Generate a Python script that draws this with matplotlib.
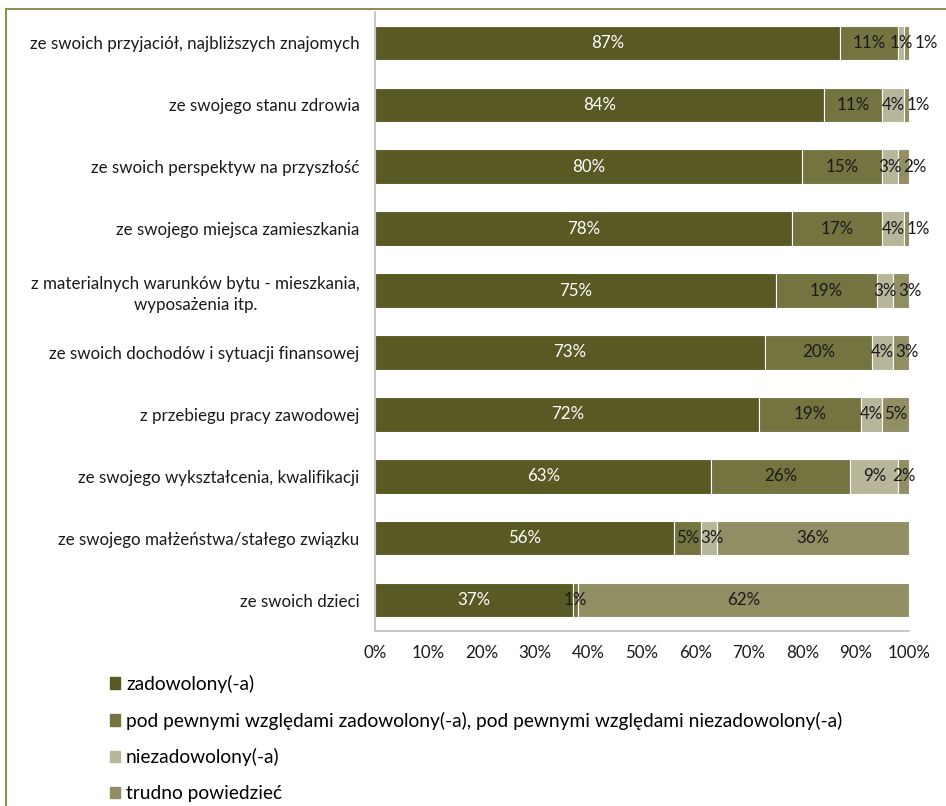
import matplotlib
matplotlib.use("Agg")
import matplotlib.pyplot as plt
from matplotlib.lines import Line2D
import numpy as np

plt.rcParams['font.family'] = ['Lato', 'DejaVu Sans']

categories = [
    "ze swoich przyjaciół, najbliższych znajomych",
    "ze swojego stanu zdrowia",
    "ze swoich perspektyw na przyszłość",
    "ze swojego miejsca zamieszkania",
    "z materialnych warunków bytu - mieszkania,\nwyposażenia itp.",
    "ze swoich dochodów i sytuacji finansowej",
    "z przebiegu pracy zawodowej",
    "ze swojego wykształcenia, kwalifikacji",
    "ze swojego małżeństwa/stałego związku",
    "ze swoich dzieci",
]
zadowolony = [87, 84, 80, 78, 75, 73, 72, 63, 56, 37]
pod_pewnymi = [11, 11, 15, 17, 19, 20, 19, 26, 5, 1]
niezadowolony = [1, 4, 3, 4, 3, 4, 4, 9, 3, 0]
trudno = [1, 1, 2, 1, 3, 3, 5, 2, 36, 62]
series_names = [
    "zadowolony(-a)",
    "pod pewnymi względami zadowolony(-a), pod pewnymi względami niezadowolony(-a)",
    "niezadowolony(-a)",
    "trudno powiedzieć",
]
colors = ["#595A23", "#737440", "#B8B69A", "#908E62"]
text_colors = ["white", "#1a1a1a", "#1a1a1a", "#1a1a1a"]
xticks = [0, 10, 20, 30, 40, 50, 60, 70, 80, 90, 100]

W, H = 946, 806
fig = plt.figure(figsize=(W / 100, H / 100), dpi=100)
ax = fig.add_axes([375 / W, 1 - 631 / H, (909 - 375) / W, (631 - 12) / H])

series = [zadowolony, pod_pewnymi, niezadowolony, trudno]
y = np.arange(len(categories))
left = np.zeros(len(categories))
for vals, c, name in zip(series, colors, series_names):
    ax.barh(y, vals, left=left, height=0.56, color=c, edgecolor="white",
            linewidth=0.8, label=name)
    left = left + np.array(vals)

FS = 12.2
ax.set_xlim(0, 100)
ax.set_ylim(len(categories) - 0.5, -0.5)
ax.set_yticks(y)
ax.set_yticklabels(categories, fontsize=FS, ha="right", multialignment="center",
                   linespacing=1.35)
ax.set_xticks(xticks)
ax.set_xticklabels([f"{t}%" for t in xticks], fontsize=FS)
ax.tick_params(axis="both", length=0, colors="#1a1a1a")
ax.tick_params(axis="y", pad=11)
ax.tick_params(axis="x", pad=10)
for s in ["top", "right"]:
    ax.spines[s].set_visible(False)
for s in ["left", "bottom"]:
    ax.spines[s].set_color("#BFBFBF")
    ax.spines[s].set_linewidth(1.2)

# data labels, centered, nudged right if they would overlap the previous one
fig.canvas.draw()
renderer = fig.canvas.get_renderer()
inv = ax.transData.inverted()
for i in range(len(categories)):
    start = 0.0
    prev_right = -1e9
    for k, vals in enumerate(series):
        v = vals[i]
        if v <= 0:
            continue
        cx = start + v / 2
        t = ax.text(cx, i, f"{v}%", ha="center", va="center", fontsize=FS,
                    color=text_colors[k])
        bb = t.get_window_extent(renderer)
        x0 = inv.transform((bb.x0, 0))[0]
        x1 = inv.transform((bb.x1, 0))[0]
        if x0 < prev_right:
            shift = prev_right - x0 + 0.3
            t.set_x(cx + shift)
            x1 += shift
        prev_right = x1
        start += v

handles = [plt.Rectangle((0, 0), 1, 1, color=c) for c in colors]
fig.legend(handles, series_names, loc="upper left",
           bbox_to_anchor=(102 / W, 1 - 667 / H), frameon=False,
           fontsize=13.8, labelspacing=0.98, handlelength=0.55, handleheight=0.55,
           handletextpad=0.3, borderaxespad=0)

# partial frame (top and left)
fig.add_artist(Line2D([6 / W, 1.0], [1 - 9 / H, 1 - 9 / H], transform=fig.transFigure,
                      color="#8F8F55", linewidth=1.5))
fig.add_artist(Line2D([6 / W, 6 / W], [1 - 9 / H, 0], transform=fig.transFigure,
                      color="#8F8F55", linewidth=1.5))

fig.savefig("out.png", dpi=100)
